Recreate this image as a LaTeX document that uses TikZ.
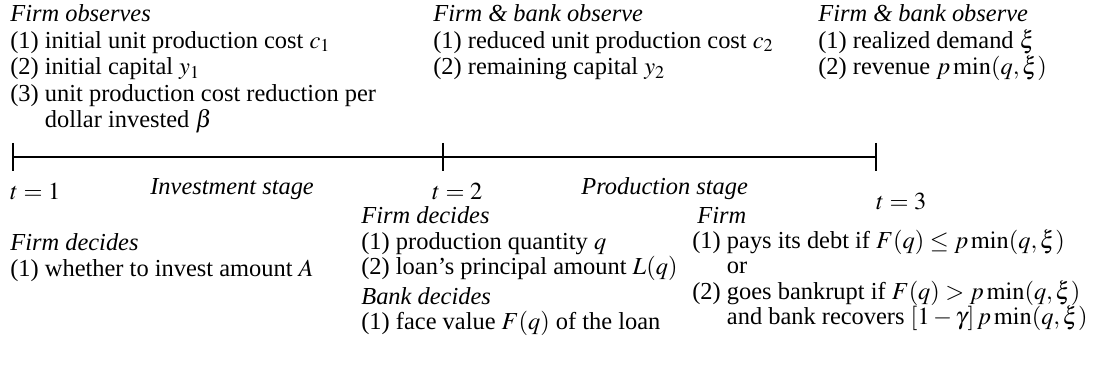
\documentclass[tikz,border=0pt]{standalone}
\usepackage{mathptmx}
\usepackage[no-math]{fontspec}
\setmainfont{Liberation Serif}
\usepackage{tikz}

\begin{document}
\begin{tikzpicture}[
    txt/.style={align=left, anchor=base west, inner sep=0pt, font=\fontsize{13.9}{14.5}\selectfont},
    block/.style={txt, anchor=north west},
    topblock/.style={block, font=\fontsize{13.9}{15.07}\selectfont},
    tick/.style={line width=1.6pt},
]
    \useasboundingbox (0,0) rectangle (22.04,-7.42);

    % the time line
    \coordinate (t1) at (0.26,-3.14);
    \coordinate (t2) at (8.86,-3.14);
    \coordinate (t3) at (17.52,-3.14);

    \draw[tick] (t1) -- (t2) -- (t3);
    \draw[tick] ([yshift=8pt]t1) -- ([yshift=-8pt]t1);
    \draw[tick] ([yshift=8pt]t2) -- ([yshift=-8pt]t2);
    \draw[tick] ([yshift=8pt]t3) -- ([yshift=-8pt]t3);

    \node[txt] (l1) at (0.2,-4.0) {$t = 1$};
    \node[txt] (l2) at (8.64,-4.0) {$t = 2$};
    \node[txt] (l3) at (17.52,-4.2) {$t = 3$};
    \node[txt] (inv) at (3.0,-3.9) {\textit{Investment stage}};
    \node[txt] (prod) at (11.62,-3.9) {\textit{Production stage}};

    % what is observed
    \node[topblock] (obs1) at (0.2,-0.09) {\textit{Firm observes}\\
        (1) initial unit production cost $c_1$\\
        (2) initial capital $y_1$\\
        (3) unit production cost reduction per\\
        \hphantom{(3) }dollar invested $\beta$};
    \node[topblock] (obs2) at (8.66,-0.09) {\textit{Firm \& bank observe}\\
        (1) reduced unit production cost $c_2$\\
        (2) remaining capital $y_2$};
    \node[topblock] (obs3) at (16.36,-0.09) {\textit{Firm \& bank observe}\\
        (1) realized demand $\xi$\\
        (2) revenue $p\min(q,\xi)$};

    % what is decided
    \node[block] (dec1) at (0.2,-4.67) {\textit{Firm decides}\\
        (1) whether to invest amount $A$};
    \node[block] (dec2) at (7.22,-4.13) {\textit{Firm decides}\\
        (1) production quantity $q$\\
        (2) loan's principal amount $L(q)$\\[0.08cm]
        \textit{Bank decides}\\
        (1) face value $F(q)$ of the loan};
    \node[block] (dec3) at (13.84,-4.13) {\hspace{0.1cm}\textit{Firm}\\
        (1) pays its debt if $F(q) \le p\min(q,\xi)$\\
        \hphantom{(1) }or\\
        (2) goes bankrupt if $F(q) > p\min(q,\xi)$\\
        \hphantom{(2) }and bank recovers $[1-\gamma]\,p\min(q,\xi)$};
\end{tikzpicture}
\end{document}
